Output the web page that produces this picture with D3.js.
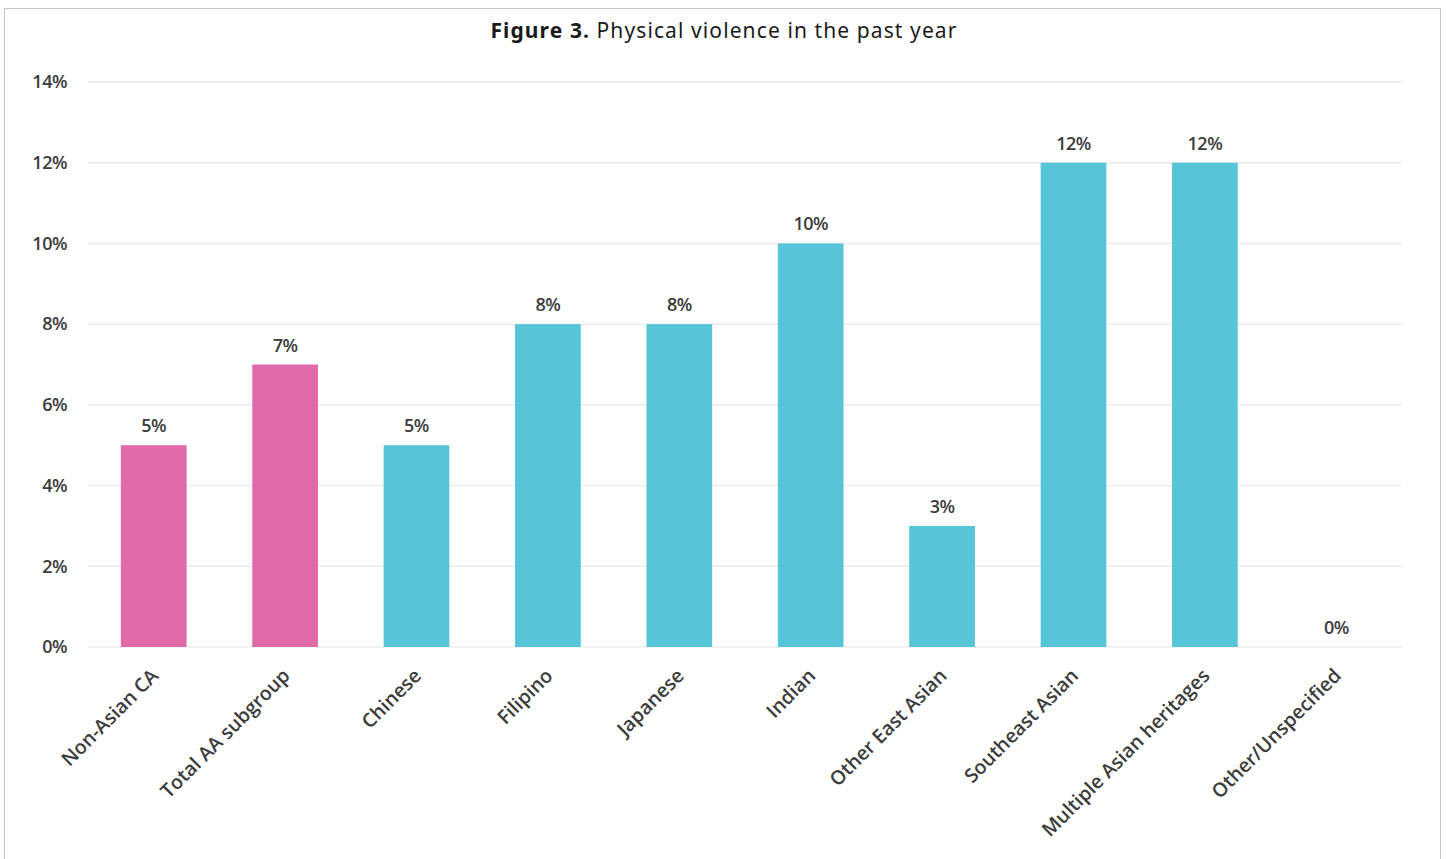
<!DOCTYPE html>
<html>
<head>
<meta charset="utf-8">
<script src="https://cdn.jsdelivr.net/npm/d3@7"></script>
<style>
  body { margin: 0; background: #fff; }
  #chart { width: 1447px; height: 859px; }
</style>
</head>
<body>
<div id="chart"></div>
<script>
// Chart data
const categories = ["Non-Asian CA", "Total AA subgroup", "Chinese", "Filipino", "Japanese",
    "Indian", "Other East Asian", "Southeast Asian", "Multiple Asian heritages", "Other/Unspecified"];
const values = [5, 7, 5, 8, 8, 10, 3, 12, 12, 0];
const groups = ["ca", "ca", "aa", "aa", "aa", "aa", "aa", "aa", "aa", "aa"];
const yTicks = [0, 2, 4, 6, 8, 10, 12, 14];

const colors = { ca: "#e06aa8", aa: "#56c5d8" };
const labelFont = "'Open Sans', 'Liberation Sans', sans-serif";

const W = 1447, H = 859;
const margin = { top: 82, right: 45, bottom: 212, left: 88 };
const width = W - margin.left - margin.right;
const height = H - margin.top - margin.bottom;

const svg = d3.select("#chart").append("svg")
    .attr("width", W)
    .attr("height", H);

// frame
svg.append("rect")
    .attr("x", 4.5).attr("y", 8.5)
    .attr("width", 1436).attr("height", 860)
    .attr("fill", "none")
    .attr("stroke", "#c8c8c8");

// title
const title = svg.append("text")
    .attr("x", 724).attr("y", 38)
    .attr("text-anchor", "middle")
    .style("font-family", "'Noto Sans', Inter, sans-serif")
    .style("font-size", "21px")
    .style("letter-spacing", "1.1px")
    .attr("fill", "#1a1a1a");
title.append("tspan").attr("font-weight", 700).text("Figure 3.");
title.append("tspan").text(" Physical violence in the past year");

const g = svg.append("g")
    .attr("transform", `translate(${margin.left},${margin.top})`);

const x = d3.scaleBand()
    .domain(categories)
    .range([0, width])
    .paddingInner(0.5)
    .paddingOuter(0.25);

const y = d3.scaleLinear()
    .domain([0, 14])
    .range([height, 0]);

// gridlines
g.append("g")
    .selectAll("line")
    .data(yTicks)
    .enter().append("line")
    .attr("x1", 0).attr("x2", width)
    .attr("y1", d => y(d)).attr("y2", d => y(d))
    .attr("stroke", "#ececec")
    .attr("stroke-width", 1.5);

// y axis
const yAxis = g.append("g")
    .call(d3.axisLeft(y).tickValues(yTicks).tickFormat(d => d + "%").tickSize(0).tickPadding(21));
yAxis.select(".domain").remove();
yAxis.selectAll("text")
    .style("font-family", labelFont)
    .style("font-size", "18px")
    .style("font-weight", 600)
    .style("letter-spacing", "-0.5px")
    .attr("fill", "#3c3c3c");

// bars
g.selectAll(".bar")
    .data(categories)
    .enter().append("rect")
    .attr("class", "bar")
    .attr("x", d => x(d))
    .attr("y", (d, i) => y(values[i]))
    .attr("width", x.bandwidth())
    .attr("height", (d, i) => height - y(values[i]))
    .attr("fill", (d, i) => colors[groups[i]]);

// value labels
g.selectAll(".val")
    .data(categories)
    .enter().append("text")
    .attr("class", "val")
    .attr("x", d => x(d) + x.bandwidth() / 2)
    .attr("y", (d, i) => y(values[i]) - 13)
    .attr("text-anchor", "middle")
    .style("font-family", labelFont)
    .style("font-size", "18px")
    .style("font-weight", 600)
    .style("letter-spacing", "-0.5px")
    .attr("fill", "#3c3c3c")
    .text((d, i) => values[i] + "%");

// x axis
const xAxis = g.append("g")
    .attr("transform", `translate(0,${height})`)
    .call(d3.axisBottom(x).tickSize(0).tickPadding(0));
xAxis.select(".domain").remove();
xAxis.selectAll("text")
    .style("font-family", labelFont)
    .style("font-size", "19.5px")
    .style("font-weight", 600)
    .style("letter-spacing", "0px")
    .attr("fill", "#3c3c3c")
    .attr("text-anchor", "end")
    .attr("dy", null)
    .attr("transform", "translate(6,30) rotate(-45)");
</script>
</body>
</html>
